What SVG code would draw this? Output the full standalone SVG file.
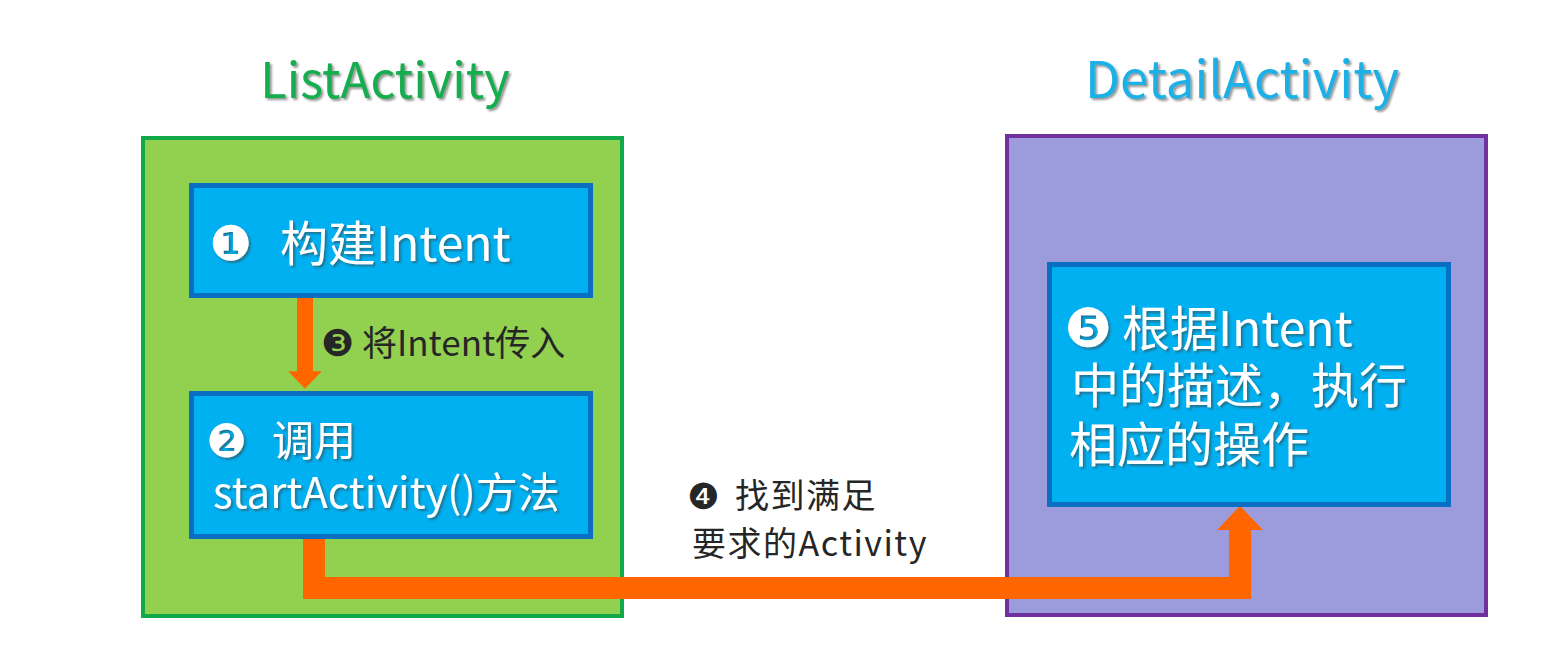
<svg xmlns="http://www.w3.org/2000/svg" width="1559" height="672" viewBox="0 0 1559 672">
<defs>
<style>
.cn{font-family:"Noto Sans CJK SC","Noto Sans",sans-serif}
.num{font-family:"DejaVu Sans",sans-serif}
.title{text-anchor:middle}
.white{fill:#ffffff}
.dark{fill:#262626}
.blue{fill:#00b0f0;stroke:#0a6fc2;stroke-width:5}
.conn{fill:none;stroke:#ff6600;stroke-linejoin:miter}
</style>
<filter id="sh" x="-10%" y="-20%" width="130%" height="150%">
<feDropShadow dx="2" dy="2" stdDeviation="1" flood-color="#404040" flood-opacity="0.55"/>
</filter>
<marker id="ah" markerUnits="strokeWidth" markerWidth="1.1" markerHeight="2.1" viewBox="0 0 11 21" refX="0.5" refY="10.5" orient="auto">
<path d="M0,0 L11,10.5 L0,21 Z" fill="#ff6600"/>
</marker>
</defs>
<rect width="1559" height="672" fill="#ffffff"/>
<g id="list-activity">
<rect x="143" y="138" width="479" height="478" fill="#92d050" stroke="#11a84a" stroke-width="4"/>
<text class="cn title" x="385" y="98" font-size="49" fill="#13ad4f" filter="url(#sh)">ListActivity</text>
</g>
<g id="detail-activity">
<rect x="1007" y="136" width="479" height="479" fill="#9c9cdc" stroke="#7030a0" stroke-width="4"/>
<text class="cn title" x="1242" y="98" font-size="51" fill="#1ab0e6" filter="url(#sh)">DetailActivity</text>
</g>
<g id="connectors">
<path class="conn" d="M305,298 V372" stroke-width="16" marker-end="url(#ah)"/>
<path class="conn" d="M314,538 V588 H1240 V529" stroke-width="22" marker-end="url(#ah)"/>
</g>
<g id="step1">
<rect class="blue" x="191.5" y="185.5" width="399" height="110"/>
<text class="white num" filter="url(#sh)" x="209" y="260" font-size="48">❶</text>
<text class="white cn" filter="url(#sh)" x="280" y="261" font-size="48">构建Intent</text>
</g>
<g id="step2">
<rect class="blue" x="191.5" y="393.5" width="399" height="143"/>
<text class="white num" filter="url(#sh)" x="206" y="457" font-size="46">❷</text>
<text class="white cn" filter="url(#sh)" font-size="42"><tspan x="272" y="456">调用</tspan><tspan x="213" y="508">startActivity()方法</tspan></text>
</g>
<g id="step3-label">
<text class="dark num" x="321" y="356" font-size="37">❸</text>
<text class="dark cn" x="362" y="356" font-size="35">将Intent传入</text>
</g>
<g id="step4-label">
<text class="dark num" x="687" y="509" font-size="36">❹</text>
<text class="dark cn" font-size="34" letter-spacing="1.5"><tspan x="735" y="508">找到满足</tspan><tspan x="692" y="556">要求的Activity</tspan></text>
</g>
<g id="step5">
<rect class="blue" x="1049.5" y="264.5" width="399" height="240"/>
<text class="white num" filter="url(#sh)" x="1064" y="347" font-size="54">❺</text>
<text class="white cn" filter="url(#sh)" x="1122" y="346" font-size="48">根据Intent</text>
<text class="white cn" filter="url(#sh)" x="1071" y="403" font-size="48">中的描述，执行</text>
<text class="white cn" filter="url(#sh)" x="1069" y="462" font-size="48">相应的操作</text>
</g>
</svg>
